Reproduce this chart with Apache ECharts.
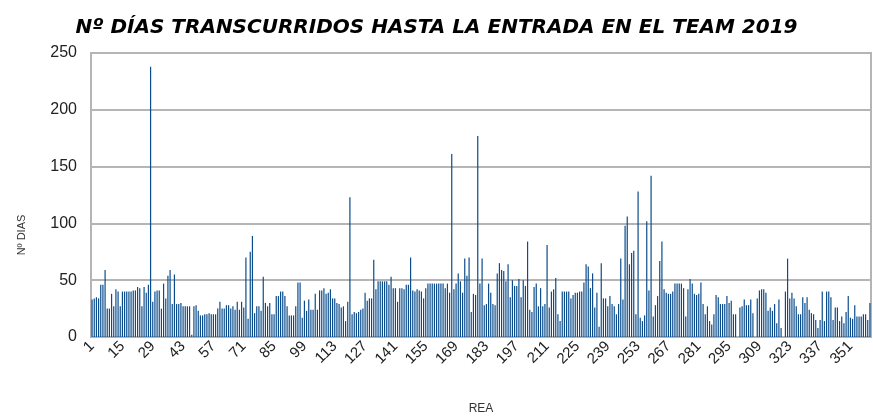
<!DOCTYPE html>
<html lang="es">
<head>
<meta charset="utf-8">
<title>Nº días hasta la entrada en el Team 2019</title>
<script src="https://cdn.jsdelivr.net/npm/echarts@6/dist/echarts.min.js"></script>
<style>
  html, body { margin: 0; padding: 0; background: #fff; }
  #main { width: 873px; height: 418px; }
</style>
</head>
<body>
<div id="main"></div>
<script>
// dias por REA (1..360)
var dias1 = [33,34,35,34,46,46,59,25,25,38,27,42,40,27,40,40,40,40,40,41,41,44,43,27,44,39,46,238,31,40,41,41,25,47,34,54,59,29,55,29,29,30,27];
var dias2 = [27,27,27,2,27,28,23,19,19,20,20,21,20,20,20,25,31,25,25,28,28,25,27,24,31,24,31,26,70,16,75,89,21,27,27,23,53,30,27,30,20,20,36,36];
var dias3 = [40,40,36,27,19,19,19,27,48,48,17,32,23,33,24,24,38,24,41,41,43,38,39,42,34,34,30,29,26,27,14,31,123,20,22,21,22,24,25,39,32,34,34,68];
var dias4 = [42,49,49,49,49,49,46,53,43,43,31,43,43,42,46,46,70,41,40,42,41,40,34,43,47,47,47,47,47,47,47,47,43,47,39,161,42,47,56,49,39,69,54,70];
var dias5 = [22,38,37,177,47,69,28,29,47,39,29,28,56,65,59,58,49,64,35,50,45,45,51,35,50,45,84,24,22,44,47,27,43,27,29,81,26,40,42,52,20,14,40,40];
var dias6 = [40,40,34,37,39,39,40,40,48,64,62,43,56,26,39,9,65,34,34,27,36,29,27,20,29,69,33,98,106,64,74,76,20,128,17,14,19,102,41,142,18,28,36,67];
var dias7 = [84,42,39,38,38,40,47,47,47,47,43,18,42,51,47,38,37,38,48,29,20,27,14,11,20,37,35,29,29,29,36,30,32,20,20,0,26,27,33,28,28,33,21];
var dias8 = [0,34,41,42,42,39,23,26,23,29,12,33,8,0,40,69,34,39,34,27,20,20,35,30,35,24,21,20,15,8,15,40,14,40,40,35,15,26,26,14,18,12,22,36,17,16,28,18,18,18,20,20,15,30];

var dias = dias1.concat(dias2, dias3, dias4, dias5, dias6, dias7, dias8);
var reas = [];
for (var i = 1; i <= dias.length; i++) {
  reas.push(String(i));
}
var ticksY = [0, 50, 100, 150, 200, 250];

var myChart = echarts.init(document.getElementById('main'), null, { renderer: 'canvas' });

var option = {
  backgroundColor: '#ffffff',
  animation: false,
  title: {
    text: 'Nº DÍAS TRANSCURRIDOS HASTA LA ENTRADA EN EL TEAM 2019',
    left: 'center',
    top: 13,
    textStyle: {
      fontFamily: 'DejaVu Sans',
      fontSize: 20,
      fontWeight: 'bold',
      fontStyle: 'italic',
      color: '#000'
    }
  },
  // titulo del eje Y (algo mas abajo que el centro, como en el original)
  graphic: [{
    type: 'text',
    x: 22,
    y: 235,
    rotation: Math.PI / 2,
    style: {
      text: 'Nº DIAS',
      fontFamily: 'Liberation Sans',
      fontSize: 11,
      fill: '#333',
      align: 'center',
      verticalAlign: 'middle'
    }
  }],
  grid: {
    left: 91,
    right: 2,
    top: 53,
    bottom: 81,
    outerBoundsMode: 'none',
    show: true,
    borderColor: '#b5b5b5',
    borderWidth: 2
  },
  xAxis: {
    type: 'category',
    data: reas,
    name: 'REA',
    nameLocation: 'middle',
    nameGap: 66,
    nameTextStyle: { fontFamily: 'Liberation Sans', fontSize: 12, color: '#333' },
    axisLine: { show: true, lineStyle: { color: '#b5b5b5', width: 2 } },
    axisTick: { show: false },
    axisLabel: {
      interval: 13,
      rotate: 45,
      fontFamily: 'Liberation Sans',
      fontSize: 15,
      color: '#222',
      margin: 7
    }
  },
  yAxis: {
    type: 'value',
    min: ticksY[0],
    max: ticksY[ticksY.length - 1],
    interval: 50,
    axisLine: { show: false },
    axisTick: { show: false },
    axisLabel: { fontFamily: 'Liberation Sans', fontSize: 16, color: '#222', margin: 14 },
    splitLine: { lineStyle: { color: '#b5b5b5', width: 2 } }
  },
  series: [{
    type: 'bar',
    data: dias,
    barWidth: 1.2,
    itemStyle: { color: '#0b4c8c' }
  }]
};
myChart.setOption(option);
</script>
</body>
</html>
